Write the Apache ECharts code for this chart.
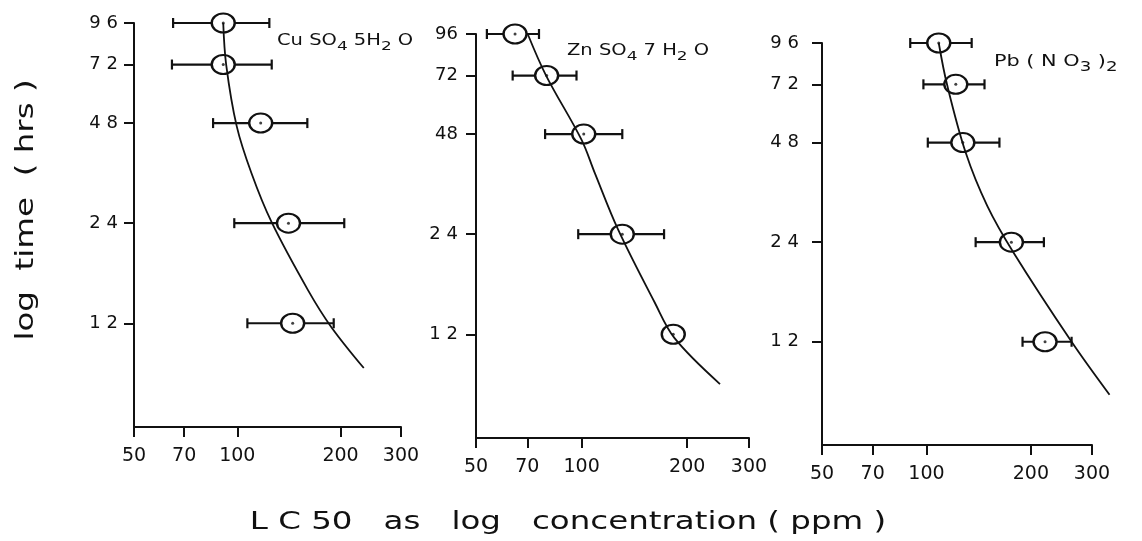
<!DOCTYPE html>
<html>
<head>
<meta charset="utf-8">
<script src="https://cdn.jsdelivr.net/npm/echarts@6/dist/echarts.min.js"></script>
<style>
  html, body { margin: 0; padding: 0; background: #fff; }
  #chart { width: 1142px; height: 541px; }
</style>
</head>
<body>
<div id="chart"></div>
<script>
  // exposure times (hrs), log axis
  var times = [96, 72, 48, 24, 12];
  var yTicks = [12, 24, 48, 72, 96];
  var xTicks = [50, 70, 100, 200, 300];
  var xTickLabels = ['50', '70', '100', '200', '300'];

  var cuYLabels = ['1 2', '2 4', '4 8', '7 2', '9 6'];
  var znYLabels = ['1 2', '2 4', '48', '72', '96'];
  var pbYLabels = ['1 2', '2 4', '4 8', '7 2', '9 6'];

  // CuSO4 5H2O : LC50 (ppm) with error range
  var cuMean = [91, 91, 117, 141, 145];
  var cuLow = [65, 64.5, 85, 98, 107];
  var cuHigh = [124, 126, 160, 205, 191];
  var cuCurveX = [91, 92.8, 99.6, 110, 125.8, 160.7, 187.8, 233.7];
  var cuCurveY = [96, 72, 47, 33.9, 24.2, 15.1, 11.7, 8.8];

  // ZnSO4 7H2O
  var znMean = [64.6, 79.5, 101.4, 130.6, 182.5];
  var znLow = [53.7, 63.6, 78.7, 97.8, null];
  var znHigh = [75.6, 96.7, 130.6, 171.8, null];
  var znCurveX = [70.2, 79.2, 99.9, 109, 127, 161.3, 183.8, 248];
  var znCurveY = [96, 72, 46.2, 36.7, 24.8, 15, 11.7, 8.5];

  // Pb(NO3)2
  var pbMean = [108.5, 121.5, 127.3, 175.7, 219.7];
  var pbLow = [89.8, 98, 100.9, 138.6, 189.2];
  var pbHigh = [135, 147, 162.3, 218, 262];
  var pbCurveX = [108.5, 114.6, 129.8, 149.7, 178.3, 262, 337];
  var pbCurveY = [96, 72, 44.7, 30.9, 22.3, 12, 8.3];

  var ink = '#111';
  var font = 'DejaVu Sans';

  var grids = [
    { left: 134, top: 23, width: 267, height: 404 },
    { left: 476, top: 34, width: 273, height: 404 },
    { left: 822, top: 43, width: 270, height: 402 }
  ];
  var yLabelMargins = [16, 18, 23];

  function xAxisOf(i) {
    return {
      type: 'log', logBase: 10, gridIndex: i, min: 50, max: 300,
      axisLine: { lineStyle: { color: ink, width: 2 } },
      axisTick: { show: true, length: 10, lineStyle: { color: ink, width: 2 }, customValues: xTicks },
      minorTick: { show: false },
      splitLine: { show: false },
      axisLabel: {
        customValues: xTicks, margin: 20, color: ink, fontSize: 19, fontFamily: font,
        formatter: function (v) {
          var k = xTicks.indexOf(Math.round(v));
          return k >= 0 ? xTickLabels[k] : '';
        }
      }
    };
  }

  function yAxisOf(i, labels) {
    return {
      type: 'log', logBase: 2, gridIndex: i, min: 5.85, max: 96,
      axisLine: { lineStyle: { color: ink, width: 2 } },
      axisTick: { show: true, length: 10, lineStyle: { color: ink, width: 2 }, customValues: yTicks },
      splitLine: { show: false },
      axisLabel: {
        customValues: yTicks, margin: yLabelMargins[i], color: ink, fontSize: 18, fontFamily: font,
        formatter: function (v) {
          var k = yTicks.indexOf(Math.round(v));
          return k >= 0 ? labels[k] : '';
        }
      }
    };
  }

  function errorSeries(i, low, high) {
    var data = [];
    for (var j = 0; j < times.length; j++) {
      if (low[j] != null) data.push([low[j], high[j], times[j]]);
    }
    return {
      type: 'custom', xAxisIndex: i, yAxisIndex: i, silent: true, z: 2,
      encode: { x: [0, 1], y: 2 },
      data: data,
      renderItem: function (params, api) {
        var p1 = api.coord([api.value(0), api.value(2)]);
        var p2 = api.coord([api.value(1), api.value(2)]);
        var h = 5;
        var st = { stroke: ink, lineWidth: 2.2 };
        return {
          type: 'group',
          children: [
            { type: 'line', shape: { x1: p1[0], y1: p1[1], x2: p2[0], y2: p2[1] }, style: st },
            { type: 'line', shape: { x1: p1[0], y1: p1[1] - h, x2: p1[0], y2: p1[1] + h }, style: st },
            { type: 'line', shape: { x1: p2[0], y1: p2[1] - h, x2: p2[0], y2: p2[1] + h }, style: st }
          ]
        };
      }
    };
  }

  // fitted curve; drawn as one smooth polyline so it may run past the last tick
  function curveSeries(i, cx, cy) {
    return {
      type: 'custom', xAxisIndex: i, yAxisIndex: i, silent: true, z: 4, clip: false,
      encode: { x: 0, y: 1 },
      data: [[cx[0], cy[0]]],
      renderItem: function (params, api) {
        var pts = cx.map(function (x, k) { return api.coord([x, cy[k]]); });
        return {
          type: 'polyline',
          shape: { points: pts, smooth: 0.35 },
          style: { stroke: ink, lineWidth: 1.8, fill: null }
        };
      }
    };
  }

  function pairs(xs, ys) {
    return xs.map(function (x, k) { return [x, ys[k]]; });
  }

  function panelSeries(i, mean, low, high, cx, cy) {
    return [
      errorSeries(i, low, high),
      {
        type: 'scatter', xAxisIndex: i, yAxisIndex: i, silent: true, z: 3,
        symbol: 'circle', symbolSize: [23, 19],
        itemStyle: { color: '#fff', borderColor: ink, borderWidth: 2.2, opacity: 1 },
        data: pairs(mean, times)
      },
      curveSeries(i, cx, cy),
      {
        type: 'scatter', xAxisIndex: i, yAxisIndex: i, silent: true, z: 5,
        symbol: 'circle', symbolSize: 3,
        itemStyle: { color: ink },
        data: pairs(mean, times)
      }
    ];
  }

  var chart = echarts.init(document.getElementById('chart'));
  chart.setOption({
    backgroundColor: '#fff',
    animation: false,
    grid: grids,
    xAxis: [xAxisOf(0), xAxisOf(1), xAxisOf(2)],
    yAxis: [yAxisOf(0, cuYLabels), yAxisOf(1, znYLabels), yAxisOf(2, pbYLabels)],
    series: [].concat(
      panelSeries(0, cuMean, cuLow, cuHigh, cuCurveX, cuCurveY),
      panelSeries(1, znMean, znLow, znHigh, znCurveX, znCurveY),
      panelSeries(2, pbMean, pbLow, pbHigh, pbCurveX, pbCurveY)
    ),
    graphic: [
      {
        type: 'text', x: 277, y: 30, scaleX: 1.3,
        style: {
          text: '{a|Cu SO}{s|4}{a| 5H}{s|2}{a| O}', fill: ink, fontFamily: font,
          rich: { a: { fontSize: 15, fontFamily: font }, s: { fontSize: 13, fontFamily: font, padding: [10, 0, 0, 0] } }
        }
      },
      {
        type: 'text', x: 567, y: 40, scaleX: 1.3,
        style: {
          text: '{a|Zn SO}{s|4}{a| 7 H}{s|2}{a| O}', fill: ink, fontFamily: font,
          rich: { a: { fontSize: 15, fontFamily: font }, s: { fontSize: 13, fontFamily: font, padding: [10, 0, 0, 0] } }
        }
      },
      {
        type: 'text', x: 994, y: 50, scaleX: 1.3,
        style: {
          text: '{a|Pb ( N O}{s|3}{a| )}{s|2}', fill: ink, fontFamily: font,
          rich: { a: { fontSize: 16, fontFamily: font }, s: { fontSize: 14, fontFamily: font, padding: [10, 0, 0, 0] } }
        }
      },
      {
        type: 'text', x: 26, y: 210, rotation: Math.PI / 2, scaleX: 1.3,
        style: {
          text: 'log  time  ( hrs )', fill: ink, fontFamily: font, fontSize: 25,
          align: 'center', verticalAlign: 'middle'
        }
      },
      {
        type: 'text', x: 568, y: 522, scaleX: 1.3,
        style: {
          text: 'L C 50   as   log   concentration ( ppm )', fill: ink, fontFamily: font, fontSize: 25,
          align: 'center', verticalAlign: 'middle'
        }
      }
    ]
  });
</script>
</body>
</html>
